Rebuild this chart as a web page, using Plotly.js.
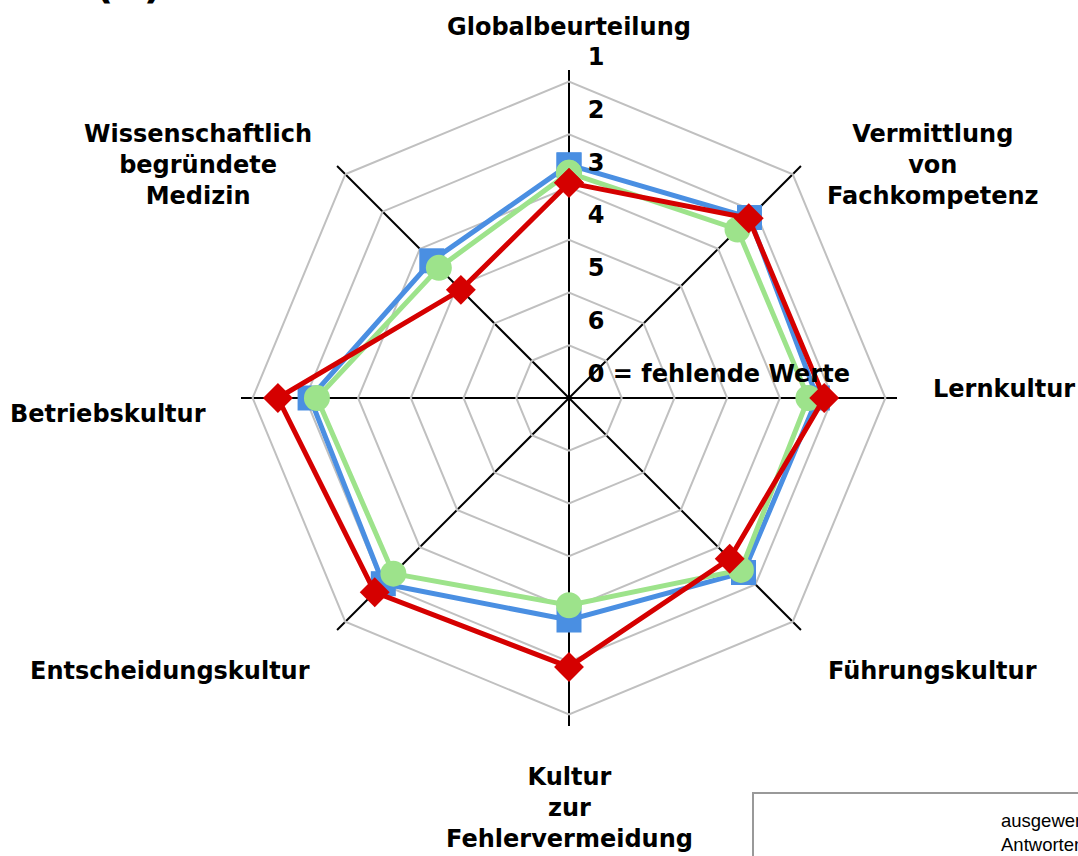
<!DOCTYPE html>
<html>
<head>
<meta charset="utf-8">
<script src="https://cdn.plot.ly/plotly-3.0.1.min.js"></script>
<style>html,body{margin:0;padding:0;background:#fff;}#chart{width:1078px;height:856px;}</style>
</head>
<body>
<div id="chart"></div>
<script>
// ---- data ----
const categories = [
  "Globalbeurteilung",
  "Vermittlung<br>von<br>Fachkompetenz",
  "Lernkultur",
  "Führungskultur",
  "Kultur<br>zur<br>Fehlervermeidung",
  "Entscheidungskultur",
  "Betriebskultur",
  "Wissenschaftlich<br>begründete<br>Medizin"
];
// grades (1 = best, outer ring); 0 = fehlende Werte sits in the centre
const seriesBlue  = [2.58, 2.16, 2.29, 2.32, 2.79, 2.02, 2.09, 3.32];
const seriesGreen = [2.73, 2.48, 2.46, 2.39, 3.07, 2.29, 2.22, 3.51];
const seriesRed   = [2.92, 2.18, 2.16, 2.69, 1.90, 1.79, 1.48, 4.10];
const gridVals    = [1, 2, 3, 4, 5, 6];
const tickVals    = [1, 2, 3, 4, 5, 6, 7];
const tickLabels  = ["1", "2", "3", "4", "5", "6", "0 = fehlende Werte"];
const legendText  = "ausgewertete<br>Antworten";
const panelTag    = "(B)";

// ---- layout helpers (pixel -> paper) ----
const W = 1078, H = 856;
const px = x => x / W;
const py = y => 1 - y / H;
const labelPos = [
  [569, 27], [933, 165], [1004, 389], [932, 671],
  [569, 808], [170, 671], [108, 414], [198, 165]
];

function closed(a) { return a.concat([a[0]]); }
const thetaClosed = closed(categories);

function series(vals, color, symbol, size) {
  return {
    type: "scatterpolar",
    mode: "lines+markers",
    r: closed(vals),
    theta: thetaClosed,
    line: {color: color, width: 5},
    marker: {color: color, symbol: symbol, size: size, line: {width: 0}},
    hoverinfo: "skip",
    cliponaxis: false,
    showlegend: false
  };
}

const traces = [
  series(seriesBlue, "#4a8fe2", "square", 25),
  series(seriesGreen, "#9de38b", "circle", 26),
  series(seriesRed, "#d50000", "diamond", 23),
  {
    type: "scatterpolar",
    mode: "markers+text",
    r: tickVals,
    theta: tickVals.map(() => categories[0]),
    text: tickLabels.map(t => "\u00a0" + t),
    textposition: "top right",
    textfont: {family: "DejaVu Sans", size: 24, color: "#000", weight: "bold"},
    marker: {size: 15, opacity: 0},
    hoverinfo: "skip",
    cliponaxis: false,
    showlegend: false
  }
];

const annotations = categories.map((c, i) => ({
  xref: "paper", yref: "paper",
  x: px(labelPos[i][0]), y: py(labelPos[i][1]),
  xanchor: "center", yanchor: "middle",
  text: c, showarrow: false, align: "center",
  font: {family: "DejaVu Sans", size: 24, color: "#000", weight: "bold"}
}));
annotations.push({
  xref: "paper", yref: "paper", x: px(999), y: py(832),
  xanchor: "left", yanchor: "middle", align: "left",
  text: legendText, showarrow: false,
  font: {family: "Liberation Sans", size: 18.5, color: "#000"}
});
annotations.push({
  xref: "paper", yref: "paper", x: px(93), y: 1 + 16 / H,
  xanchor: "left", yanchor: "middle", align: "left",
  text: panelTag, showarrow: false,
  font: {family: "DejaVu Sans", size: 40, color: "#000", weight: "bold"}
});

const cx = 569, cy = 398, R = 328;
const layout = {
  width: W, height: H,
  margin: {l: 0, r: 0, t: 0, b: 0},
  paper_bgcolor: "#fff",
  showlegend: false,
  polar: {
    domain: {x: [px(cx - R), px(cx + R)], y: [py(cy + R), py(cy - R)]},
    bgcolor: "rgba(0,0,0,0)",
    gridshape: "linear",
    radialaxis: {
      range: [7, 0.78],
      tickvals: gridVals,
      showticklabels: false,
      ticks: "",
      showline: false,
      gridcolor: "#c0c0c0",
      gridwidth: 2,
      angle: 90
    },
    angularaxis: {
      type: "category",
      categoryarray: categories,
      direction: "clockwise",
      rotation: 90,
      showline: false,
      showticklabels: false,
      ticks: "",
      gridcolor: "#000",
      gridwidth: 2
    }
  },
  shapes: [{
    type: "rect", xref: "paper", yref: "paper",
    x0: px(753), x1: px(1120), y0: py(793), y1: py(900),
    line: {color: "#999999", width: 2}, fillcolor: "rgba(0,0,0,0)"
  }],
  annotations: annotations
};

Plotly.newPlot("chart", traces, layout, {displayModeBar: false, staticPlot: true});
</script>
</body>
</html>
